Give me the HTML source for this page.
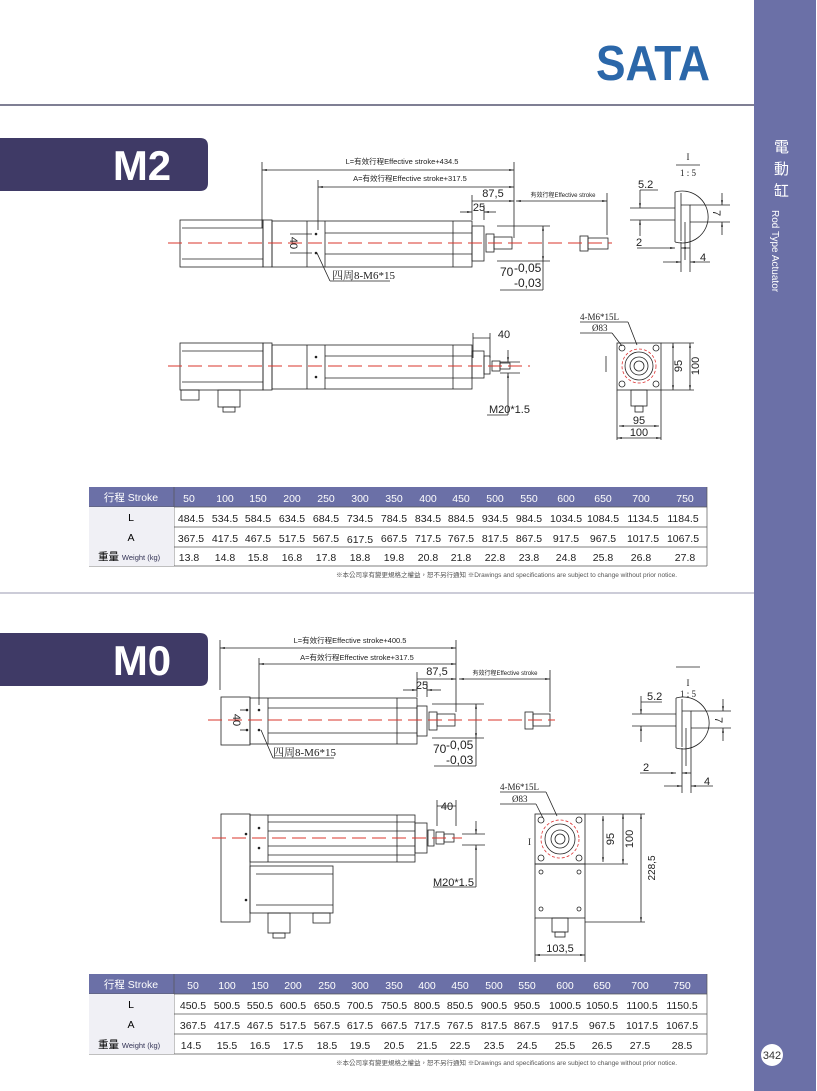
<!DOCTYPE html>
<html><head><meta charset="utf-8"><style>
html,body{margin:0;padding:0;background:#fff}
svg{display:block}
text{font-family:"Liberation Sans","Noto Sans CJK TC",sans-serif}
.s{font-family:"Liberation Serif","Noto Serif CJK SC",serif}
</style></head><body>
<svg width="817" height="1091" viewBox="0 0 817 1091" xmlns="http://www.w3.org/2000/svg">
<defs>
<marker id="a" viewBox="0 0 10 10" refX="10" refY="5" markerWidth="6" markerHeight="6" orient="auto-start-reverse"><path d="M0,3 L10,5 L0,7z" fill="#222"/></marker>
</defs>
<!-- sidebar -->
<rect x="754" y="0" width="62" height="1091" fill="#6b70a7"/>
<text x="774" y="152" fill="#fff" font-size="15" font-family="Noto Sans CJK TC,sans-serif">電</text>
<text x="774" y="174" fill="#fff" font-size="15" font-family="Noto Sans CJK TC,sans-serif">動</text>
<text x="774" y="196" fill="#fff" font-size="15" font-family="Noto Sans CJK TC,sans-serif">缸</text>
<text transform="translate(772,210) rotate(90)" fill="#fff" font-size="10">Rod Type Actuator</text>
<circle cx="772" cy="1055" r="11" fill="#fff"/>
<text x="772" y="1059" fill="#333" font-size="11" text-anchor="middle">342</text>
<!-- header -->
<text x="596" y="80" fill="#2b67a9" font-size="49" font-weight="bold" textLength="114" lengthAdjust="spacingAndGlyphs">SATA</text>
<line x1="0" y1="105" x2="754" y2="105" stroke="#333355" stroke-width="1.2"/>
<line x1="0" y1="593" x2="754" y2="593" stroke="#9a9ab0" stroke-width="1"/>
<!-- tabs -->
<path d="M0,138 H200 Q208,138 208,146 V183 Q208,191 200,191 H0z" fill="#3f3a66"/>
<text x="142" y="180" fill="#fff" font-size="42" font-weight="bold" text-anchor="middle">M2</text>
<path d="M0,633 H200 Q208,633 208,641 V678 Q208,686 200,686 H0z" fill="#3f3a66"/>
<text x="142" y="675" fill="#fff" font-size="42" font-weight="bold" text-anchor="middle">M0</text>

<g stroke="#222" stroke-width="0.8" fill="none">
<!-- M2 top view -->
<rect x="180" y="220" width="83" height="47"/>
<line x1="182" y1="228" x2="263" y2="228"/><line x1="182" y1="259" x2="263" y2="259"/>
<rect x="263" y="220" width="9" height="47"/>
<rect x="272" y="221" width="200" height="46"/>
<line x1="307" y1="221" x2="307" y2="267"/><line x1="325" y1="221" x2="325" y2="267"/><line x1="453" y1="221" x2="453" y2="267"/>
<line x1="325" y1="233" x2="472" y2="233"/><line x1="325" y1="254" x2="472" y2="254"/>
<rect x="472" y="226" width="12" height="35"/>
<rect x="486" y="234" width="8" height="18"/><rect x="494" y="237" width="18" height="12"/>
<rect x="580" y="236" width="8" height="15"/><rect x="588" y="238" width="20" height="11"/>
<line x1="262" y1="162" x2="262" y2="228"/><line x1="514" y1="162" x2="514" y2="238"/>
<line x1="262" y1="170" x2="514" y2="170" marker-start="url(#a)" marker-end="url(#a)"/>
<line x1="318" y1="180" x2="318" y2="230"/>
<line x1="318" y1="187" x2="514" y2="187" marker-start="url(#a)" marker-end="url(#a)"/>
<line x1="472" y1="195" x2="472" y2="220"/><line x1="484" y1="205" x2="484" y2="220"/>
<line x1="472" y1="201" x2="514" y2="201" marker-end="url(#a)"/>
<line x1="460" y1="212" x2="472" y2="212" marker-end="url(#a)"/><line x1="496" y1="212" x2="484" y2="212" marker-end="url(#a)"/>
<line x1="516" y1="201" x2="607" y2="201" marker-start="url(#a)" marker-end="url(#a)"/>
<line x1="607" y1="193" x2="607" y2="235"/>
<line x1="497" y1="226" x2="550" y2="226"/><line x1="497" y1="261" x2="550" y2="261"/>
<line x1="543" y1="226" x2="543" y2="261" marker-start="url(#a)" marker-end="url(#a)"/>
<line x1="543" y1="261" x2="543" y2="290"/><line x1="500" y1="290" x2="543" y2="290"/>
<line x1="290" y1="234" x2="312" y2="234"/><line x1="290" y1="253" x2="312" y2="253"/>
<line x1="317" y1="253" x2="330" y2="281"/><line x1="330" y1="281" x2="390" y2="281"/>
<!-- M2 detail I -->
<path d="M675,192 A26,26 0 1 1 675,242" />
<line x1="675" y1="192" x2="675" y2="242"/><line x1="681" y1="193" x2="681" y2="241"/>
<path d="M681,205 H690 V232"/><line x1="685" y1="222" x2="685" y2="260"/>
<line x1="630" y1="208" x2="675" y2="208"/><line x1="630" y1="220" x2="675" y2="220"/>
<line x1="640" y1="190" x2="640" y2="208" marker-end="url(#a)"/><line x1="640" y1="236" x2="640" y2="220" marker-end="url(#a)"/>
<line x1="640" y1="190" x2="658" y2="190"/>
<line x1="690" y1="205" x2="730" y2="205"/><line x1="690" y1="222" x2="730" y2="222"/>
<line x1="722" y1="193" x2="722" y2="205" marker-end="url(#a)"/><line x1="722" y1="235" x2="722" y2="222" marker-end="url(#a)"/>
<line x1="637" y1="248" x2="675" y2="248" marker-end="url(#a)"/><line x1="690" y1="248" x2="681" y2="248" marker-end="url(#a)"/>
<line x1="663" y1="262" x2="681" y2="262" marker-end="url(#a)"/><line x1="710" y1="262" x2="690" y2="262" marker-end="url(#a)"/>
<line x1="681" y1="242" x2="681" y2="272"/><line x1="690" y1="232" x2="690" y2="272"/>
<line x1="676" y1="165" x2="700" y2="165"/>
<!-- M2 bottom view -->
<rect x="180" y="343" width="83" height="47"/>
<line x1="182" y1="351" x2="263" y2="351"/><line x1="182" y1="382" x2="263" y2="382"/>
<rect x="263" y="343" width="9" height="47"/>
<rect x="272" y="345" width="200" height="44"/>
<line x1="307" y1="345" x2="307" y2="389"/><line x1="325" y1="345" x2="325" y2="389"/><line x1="453" y1="345" x2="453" y2="389"/>
<line x1="325" y1="356" x2="472" y2="356"/><line x1="325" y1="378" x2="472" y2="378"/>
<rect x="472" y="351" width="12" height="27"/><rect x="484" y="356" width="6" height="18"/>
<rect x="492" y="361" width="8" height="10"/><rect x="500" y="363" width="10" height="6"/>
<rect x="181" y="390" width="18" height="10"/><rect x="218" y="390" width="22" height="17"/><rect x="223" y="407" width="12" height="5"/>
<line x1="473" y1="333" x2="473" y2="358"/><line x1="490" y1="333" x2="490" y2="358"/>
<line x1="473" y1="338" x2="490" y2="338"/>
<line x1="500" y1="362" x2="520" y2="362"/><line x1="500" y1="373" x2="520" y2="373"/>
<line x1="508" y1="350" x2="508" y2="362" marker-end="url(#a)"/><line x1="508" y1="415" x2="508" y2="373" marker-end="url(#a)"/>
<line x1="487" y1="415" x2="508" y2="415"/>
<!-- M2 end view -->
<rect x="617" y="343" width="44" height="47"/>
<circle cx="639" cy="366" r="17" stroke="#d33" stroke-dasharray="3 2"/>
<circle cx="639" cy="366" r="14"/><circle cx="639" cy="366" r="9"/><circle cx="639" cy="366" r="5"/>
<circle cx="622" cy="348" r="3"/><circle cx="656" cy="348" r="3"/><circle cx="622" cy="384" r="3"/><circle cx="656" cy="384" r="3"/>
<rect x="631" y="390" width="16" height="16"/><rect x="635" y="406" width="8" height="6"/>
<line x1="661" y1="343" x2="694" y2="343"/><line x1="661" y1="390" x2="694" y2="390"/>
<line x1="673" y1="343" x2="673" y2="390" marker-start="url(#a)" marker-end="url(#a)"/>
<line x1="690" y1="343" x2="690" y2="390" marker-start="url(#a)" marker-end="url(#a)"/>
<line x1="617" y1="390" x2="617" y2="440"/><line x1="661" y1="390" x2="661" y2="440"/>
<line x1="619" y1="426" x2="659" y2="426" marker-start="url(#a)" marker-end="url(#a)"/>
<line x1="617" y1="438" x2="661" y2="438" marker-start="url(#a)" marker-end="url(#a)"/>
<line x1="580" y1="322" x2="628" y2="322"/><line x1="628" y1="322" x2="637" y2="345"/>
<line x1="580" y1="333" x2="612" y2="333"/><line x1="612" y1="333" x2="622" y2="346"/>
<line x1="606" y1="356" x2="606" y2="372"/>

<!-- M0 top view -->
<rect x="221" y="697" width="29" height="48"/>
<rect x="250" y="698" width="167" height="46"/>
<line x1="268" y1="698" x2="268" y2="744"/><line x1="397" y1="698" x2="397" y2="744"/>
<line x1="268" y1="708" x2="417" y2="708"/><line x1="268" y1="733" x2="417" y2="733"/>
<rect x="417" y="706" width="10" height="30"/>
<rect x="429" y="712" width="8" height="18"/><rect x="437" y="714" width="18" height="12"/>
<rect x="525" y="712" width="8" height="17"/><rect x="533" y="714" width="17" height="12"/>
<line x1="220" y1="640" x2="220" y2="690"/><line x1="456" y1="640" x2="456" y2="712"/>
<line x1="220" y1="648" x2="456" y2="648" marker-start="url(#a)" marker-end="url(#a)"/>
<line x1="259" y1="658" x2="259" y2="705"/>
<line x1="259" y1="664" x2="456" y2="664" marker-start="url(#a)" marker-end="url(#a)"/>
<line x1="417" y1="672" x2="417" y2="697"/><line x1="427" y1="682" x2="427" y2="697"/>
<line x1="417" y1="679" x2="456" y2="679" marker-end="url(#a)"/>
<line x1="403" y1="690" x2="417" y2="690" marker-end="url(#a)"/><line x1="441" y1="690" x2="427" y2="690" marker-end="url(#a)"/>
<line x1="459" y1="679" x2="550" y2="679" marker-start="url(#a)" marker-end="url(#a)"/>
<line x1="550" y1="670" x2="550" y2="712"/>
<line x1="432" y1="704" x2="484" y2="704"/><line x1="432" y1="738" x2="484" y2="738"/>
<line x1="476" y1="704" x2="476" y2="738" marker-start="url(#a)" marker-end="url(#a)"/>
<line x1="476" y1="738" x2="476" y2="766"/><line x1="434" y1="766" x2="476" y2="766"/>
<line x1="240" y1="710" x2="248" y2="710"/><line x1="240" y1="730" x2="248" y2="730"/>
<line x1="261" y1="730" x2="273" y2="758"/><line x1="273" y1="758" x2="334" y2="758"/>
<!-- M0 detail -->
<path d="M676,698 A26,26 0 1 1 676,748"/>
<line x1="676" y1="698" x2="676" y2="748"/><line x1="682" y1="699" x2="682" y2="747"/>
<path d="M682,711 H691 V738"/><line x1="686" y1="728" x2="686" y2="766"/>
<line x1="632" y1="714" x2="676" y2="714"/><line x1="632" y1="726" x2="676" y2="726"/>
<line x1="641" y1="696" x2="641" y2="714" marker-end="url(#a)"/><line x1="641" y1="742" x2="641" y2="726" marker-end="url(#a)"/>
<line x1="641" y1="702" x2="662" y2="702"/>
<line x1="691" y1="711" x2="731" y2="711"/><line x1="691" y1="728" x2="731" y2="728"/>
<line x1="723" y1="699" x2="723" y2="711" marker-end="url(#a)"/><line x1="723" y1="741" x2="723" y2="728" marker-end="url(#a)"/>
<line x1="640" y1="773" x2="676" y2="773" marker-end="url(#a)"/><line x1="691" y1="773" x2="682" y2="773" marker-end="url(#a)"/>
<line x1="664" y1="786" x2="682" y2="786" marker-end="url(#a)"/><line x1="713" y1="786" x2="691" y2="786" marker-end="url(#a)"/>
<line x1="682" y1="748" x2="682" y2="793"/><line x1="691" y1="738" x2="691" y2="793"/>
<line x1="676" y1="667" x2="700" y2="667"/>
<!-- M0 bottom -->
<rect x="221" y="814" width="29" height="108"/>
<rect x="250" y="815" width="165" height="47"/>
<line x1="268" y1="815" x2="268" y2="862"/><line x1="397" y1="815" x2="397" y2="862"/>
<line x1="268" y1="822" x2="415" y2="822"/><line x1="268" y1="831" x2="415" y2="831"/><line x1="268" y1="846" x2="415" y2="846"/><line x1="268" y1="855" x2="415" y2="855"/>
<rect x="250" y="866" width="83" height="47"/>
<line x1="256" y1="874" x2="333" y2="874"/><line x1="256" y1="905" x2="333" y2="905"/>
<rect x="268" y="913" width="22" height="20"/><rect x="273" y="933" width="12" height="5"/><rect x="313" y="913" width="17" height="10"/>
<rect x="415" y="823" width="12" height="30"/><rect x="428" y="830" width="6" height="16"/>
<rect x="436" y="832" width="8" height="12"/><rect x="444" y="834" width="10" height="8"/>
<line x1="437" y1="800" x2="437" y2="826"/><line x1="456" y1="800" x2="456" y2="826"/>
<line x1="437" y1="806" x2="456" y2="806"/>
<line x1="462" y1="834" x2="485" y2="834"/><line x1="462" y1="845" x2="485" y2="845"/>
<line x1="476" y1="821" x2="476" y2="834" marker-end="url(#a)"/><line x1="476" y1="887" x2="476" y2="845" marker-end="url(#a)"/>
<line x1="433" y1="887" x2="476" y2="887"/>
<!-- M0 end view -->
<rect x="535" y="814" width="50" height="50"/>
<rect x="535" y="864" width="50" height="54"/>
<circle cx="560" cy="839" r="19" stroke="#d33" stroke-dasharray="3 2"/>
<circle cx="560" cy="839" r="15"/><circle cx="560" cy="839" r="9"/><circle cx="560" cy="839" r="5"/>
<circle cx="541" cy="820" r="3"/><circle cx="579" cy="820" r="3"/><circle cx="541" cy="858" r="3"/><circle cx="579" cy="858" r="3"/>
<circle cx="541" cy="872" r="2"/><circle cx="579" cy="872" r="2"/><circle cx="541" cy="909" r="2"/><circle cx="579" cy="909" r="2"/>
<rect x="552" y="918" width="16" height="14"/><rect x="555" y="932" width="10" height="5"/>
<line x1="585" y1="814" x2="645" y2="814"/><line x1="585" y1="864" x2="628" y2="864"/><line x1="585" y1="922" x2="645" y2="922"/>
<line x1="603" y1="816" x2="603" y2="862" marker-start="url(#a)" marker-end="url(#a)"/>
<line x1="623" y1="814" x2="623" y2="864" marker-start="url(#a)" marker-end="url(#a)"/>
<line x1="641" y1="814" x2="641" y2="922" marker-start="url(#a)" marker-end="url(#a)"/>
<line x1="535" y1="918" x2="535" y2="962"/><line x1="585" y1="918" x2="585" y2="962"/>
<line x1="535" y1="955" x2="585" y2="955" marker-start="url(#a)" marker-end="url(#a)"/>
<line x1="500" y1="792" x2="546" y2="792"/><line x1="546" y1="792" x2="557" y2="816"/>
<line x1="500" y1="804" x2="536" y2="804"/><line x1="536" y1="804" x2="543" y2="818"/>
</g>
<!-- red center lines -->
<g stroke="#d9342b" stroke-width="1" stroke-dasharray="14 6">
<line x1="168" y1="243" x2="612" y2="243"/>
<line x1="168" y1="366" x2="530" y2="366"/>
<line x1="208" y1="720" x2="555" y2="720"/>
<line x1="212" y1="838" x2="462" y2="838"/>
</g>
<!-- dots -->
<g fill="#222">
<circle cx="316" cy="234" r="1.3"/><circle cx="316" cy="253" r="1.3"/>
<circle cx="316" cy="357" r="1.3"/><circle cx="316" cy="377" r="1.3"/>
<circle cx="259" cy="710" r="1.3"/><circle cx="259" cy="730" r="1.3"/><circle cx="247" cy="710" r="1.3"/><circle cx="247" cy="730" r="1.3"/>
<circle cx="259" cy="828" r="1.3"/><circle cx="259" cy="848" r="1.3"/><circle cx="246" cy="834" r="1.3"/><circle cx="246" cy="900" r="1.3"/>
</g>
<!-- drawing labels -->
<g fill="#222">
<text x="402" y="164" font-size="7.5" text-anchor="middle">L=有效行程Effective stroke+434.5</text>
<text x="410" y="181" font-size="7.5" text-anchor="middle">A=有效行程Effective stroke+317.5</text>
<text x="493" y="197" font-size="11" text-anchor="middle">87,5</text>
<text x="479" y="211" font-size="11" text-anchor="middle">25</text>
<text x="563" y="197" font-size="6" text-anchor="middle">有效行程Effective stroke</text>
<text x="500" y="276" font-size="12">70</text><text x="514" y="272" font-size="12">-0,05</text><text x="514" y="287" font-size="12">-0,03</text>
<text transform="translate(290,243) rotate(90)" font-size="11" text-anchor="middle">40</text>
<text x="332" y="279" font-size="11" class="s">四周8-M6*15</text>
<text x="688" y="160" font-size="9" class="s" text-anchor="middle">I</text><text x="688" y="176" font-size="9" class="s" text-anchor="middle">1 : 5</text>
<text x="638" y="188" font-size="11">5.2</text>
<text x="636" y="246" font-size="11">2</text><text x="700" y="261" font-size="11">4</text>
<text transform="translate(713,213) rotate(90)" font-size="11" text-anchor="middle">7</text>
<text x="504" y="338" font-size="11" text-anchor="middle">40</text>
<text x="489" y="413" font-size="11">M20*1.5</text>
<text x="580" y="320" font-size="9" class="s">4-M6*15L</text>
<text x="592" y="331" font-size="9" class="s">Ø83</text>
<text transform="translate(682,366) rotate(-90)" font-size="11" text-anchor="middle">95</text>
<text transform="translate(699,366) rotate(-90)" font-size="11" text-anchor="middle">100</text>
<text x="639" y="424" font-size="11" text-anchor="middle">95</text>
<text x="639" y="436" font-size="11" text-anchor="middle">100</text>

<text x="350" y="643" font-size="7.5" text-anchor="middle">L=有效行程Effective stroke+400.5</text>
<text x="357" y="660" font-size="7.5" text-anchor="middle">A=有效行程Effective stroke+317.5</text>
<text x="437" y="675" font-size="11" text-anchor="middle">87,5</text>
<text x="422" y="689" font-size="11" text-anchor="middle">25</text>
<text x="505" y="675" font-size="6" text-anchor="middle">有效行程Effective stroke</text>
<text x="433" y="753" font-size="12">70</text><text x="446" y="749" font-size="12">-0,05</text><text x="446" y="764" font-size="12">-0,03</text>
<text transform="translate(233,720) rotate(90)" font-size="11" text-anchor="middle">40</text>
<text x="273" y="756" font-size="11" class="s">四周8-M6*15</text>
<text x="688" y="686" font-size="9" class="s" text-anchor="middle">I</text><text x="688" y="697" font-size="9" class="s" text-anchor="middle">1 : 5</text>
<text x="647" y="700" font-size="11">5.2</text>
<text x="643" y="771" font-size="11">2</text><text x="704" y="785" font-size="11">4</text>
<text transform="translate(715,720) rotate(90)" font-size="11" text-anchor="middle">7</text>
<text x="447" y="810" font-size="11" text-anchor="middle">40</text>
<text x="433" y="886" font-size="11">M20*1.5</text>
<text x="500" y="790" font-size="9" class="s">4-M6*15L</text>
<text x="512" y="802" font-size="9" class="s">Ø83</text>
<text x="528" y="845" font-size="9" class="s">I</text>
<text transform="translate(614,839) rotate(-90)" font-size="11" text-anchor="middle">95</text>
<text transform="translate(633,839) rotate(-90)" font-size="11" text-anchor="middle">100</text>
<text transform="translate(655,868) rotate(-90)" font-size="10" text-anchor="middle">228,5</text>
<text x="560" y="952" font-size="11" text-anchor="middle">103,5</text>
</g>

<!-- Table 1 -->
<g font-size="10.5">
<rect x="89" y="487" width="618" height="20" fill="#6b70a7"/>
<g stroke="#555" stroke-width="0.7" fill="none">
<line x1="89" y1="507" x2="707" y2="507"/><line x1="89" y1="527" x2="707" y2="527"/><line x1="89" y1="547" x2="707" y2="547"/><line x1="89" y1="566" x2="707" y2="566"/>
<line x1="174" y1="487" x2="174" y2="566"/><line x1="707" y1="487" x2="707" y2="566"/>
</g>
<rect x="89" y="507" width="85" height="59" fill="#f0f0f5"/>
<text x="131" y="501" fill="#fff" text-anchor="middle">行程 Stroke</text>
<text x="131" y="521" text-anchor="middle">L</text>
<text x="131" y="541" text-anchor="middle">A</text>
<text x="98" y="560">重量 <tspan font-size="7.5" fill="#335">Weight (kg)</tspan></text>
</g>
<g font-size="10.5" text-anchor="middle">
<g fill="#fff"><text x="189" y="502">50</text><text x="225" y="502">100</text><text x="258" y="502">150</text><text x="292" y="502">200</text><text x="326" y="502">250</text><text x="360" y="502">300</text><text x="394" y="502">350</text><text x="428" y="502">400</text><text x="461" y="502">450</text><text x="495" y="502">500</text><text x="529" y="502">550</text><text x="566" y="502">600</text><text x="603" y="502">650</text><text x="641" y="502">700</text><text x="685" y="502">750</text></g>
<g fill="#222"><text x="191" y="522">484.5</text><text x="225" y="522">534.5</text><text x="258" y="522">584.5</text><text x="292" y="522">634.5</text><text x="326" y="522">684.5</text><text x="360" y="522">734.5</text><text x="394" y="522">784.5</text><text x="428" y="522">834.5</text><text x="461" y="522">884.5</text><text x="495" y="522">934.5</text><text x="529" y="522">984.5</text><text x="566" y="522">1034.5</text><text x="603" y="522">1084.5</text><text x="643" y="522">1134.5</text><text x="683" y="522">1184.5</text></g>
<g fill="#222"><text x="191" y="542">367.5</text><text x="225" y="542">417.5</text><text x="258" y="542">467.5</text><text x="292" y="542">517.5</text><text x="326" y="542">567.5</text><text x="360" y="543">617.5</text><text x="394" y="542">667.5</text><text x="428" y="542">717.5</text><text x="461" y="542">767.5</text><text x="495" y="542">817.5</text><text x="529" y="542">867.5</text><text x="566" y="542">917.5</text><text x="603" y="542">967.5</text><text x="643" y="542">1017.5</text><text x="683" y="542">1067.5</text></g>
<g fill="#222"><text x="189" y="561">13.8</text><text x="225" y="561">14.8</text><text x="258" y="561">15.8</text><text x="292" y="561">16.8</text><text x="326" y="561">17.8</text><text x="360" y="561">18.8</text><text x="394" y="561">19.8</text><text x="428" y="561">20.8</text><text x="461" y="561">21.8</text><text x="495" y="561">22.8</text><text x="529" y="561">23.8</text><text x="566" y="561">24.8</text><text x="603" y="561">25.8</text><text x="641" y="561">26.8</text><text x="685" y="561">27.8</text></g>
</g>
<text x="677" y="577" font-size="6.5" fill="#555" text-anchor="end">※本公司享有變更規格之權益，恕不另行通知 ※Drawings and specifications are subject to change without prior notice.</text>

<!-- Table 2 -->
<g font-size="10.5">
<rect x="89" y="974" width="618" height="20" fill="#6b70a7"/>
<g stroke="#555" stroke-width="0.7" fill="none">
<line x1="89" y1="994" x2="707" y2="994"/><line x1="89" y1="1014" x2="707" y2="1014"/><line x1="89" y1="1034" x2="707" y2="1034"/><line x1="89" y1="1054" x2="707" y2="1054"/>
<line x1="174" y1="974" x2="174" y2="1054"/><line x1="707" y1="974" x2="707" y2="1054"/>
</g>
<rect x="89" y="994" width="85" height="60" fill="#f0f0f5"/>
<text x="131" y="988" fill="#fff" text-anchor="middle">行程 Stroke</text>
<text x="131" y="1008" text-anchor="middle">L</text>
<text x="131" y="1028" text-anchor="middle">A</text>
<text x="98" y="1048">重量 <tspan font-size="7.5" fill="#335">Weight (kg)</tspan></text>
</g>
<g font-size="10.5" text-anchor="middle">
<g fill="#fff"><text x="193" y="989">50</text><text x="227" y="989">100</text><text x="260" y="989">150</text><text x="293" y="989">200</text><text x="327" y="989">250</text><text x="360" y="989">300</text><text x="394" y="989">350</text><text x="427" y="989">400</text><text x="460" y="989">450</text><text x="494" y="989">500</text><text x="527" y="989">550</text><text x="565" y="989">600</text><text x="602" y="989">650</text><text x="640" y="989">700</text><text x="682" y="989">750</text></g>
<g fill="#222"><text x="193" y="1009">450.5</text><text x="227" y="1009">500.5</text><text x="260" y="1009">550.5</text><text x="293" y="1009">600.5</text><text x="327" y="1009">650.5</text><text x="360" y="1009">700.5</text><text x="394" y="1009">750.5</text><text x="427" y="1009">800.5</text><text x="460" y="1009">850.5</text><text x="494" y="1009">900.5</text><text x="527" y="1009">950.5</text><text x="565" y="1009">1000.5</text><text x="602" y="1009">1050.5</text><text x="642" y="1009">1100.5</text><text x="682" y="1009">1150.5</text></g>
<g fill="#222"><text x="193" y="1029">367.5</text><text x="227" y="1029">417.5</text><text x="260" y="1029">467.5</text><text x="293" y="1029">517.5</text><text x="327" y="1029">567.5</text><text x="360" y="1029">617.5</text><text x="394" y="1029">667.5</text><text x="427" y="1029">717.5</text><text x="460" y="1029">767.5</text><text x="494" y="1029">817.5</text><text x="527" y="1029">867.5</text><text x="565" y="1029">917.5</text><text x="602" y="1029">967.5</text><text x="642" y="1029">1017.5</text><text x="682" y="1029">1067.5</text></g>
<g fill="#222"><text x="191" y="1049">14.5</text><text x="227" y="1049">15.5</text><text x="260" y="1049">16.5</text><text x="293" y="1049">17.5</text><text x="327" y="1049">18.5</text><text x="360" y="1049">19.5</text><text x="394" y="1049">20.5</text><text x="427" y="1049">21.5</text><text x="460" y="1049">22.5</text><text x="494" y="1049">23.5</text><text x="527" y="1049">24.5</text><text x="565" y="1049">25.5</text><text x="602" y="1049">26.5</text><text x="640" y="1049">27.5</text><text x="682" y="1049">28.5</text></g>
</g>
<text x="677" y="1065" font-size="6.5" fill="#555" text-anchor="end">※本公司享有變更規格之權益，恕不另行通知 ※Drawings and specifications are subject to change without prior notice.</text>
</svg>
</body></html>
